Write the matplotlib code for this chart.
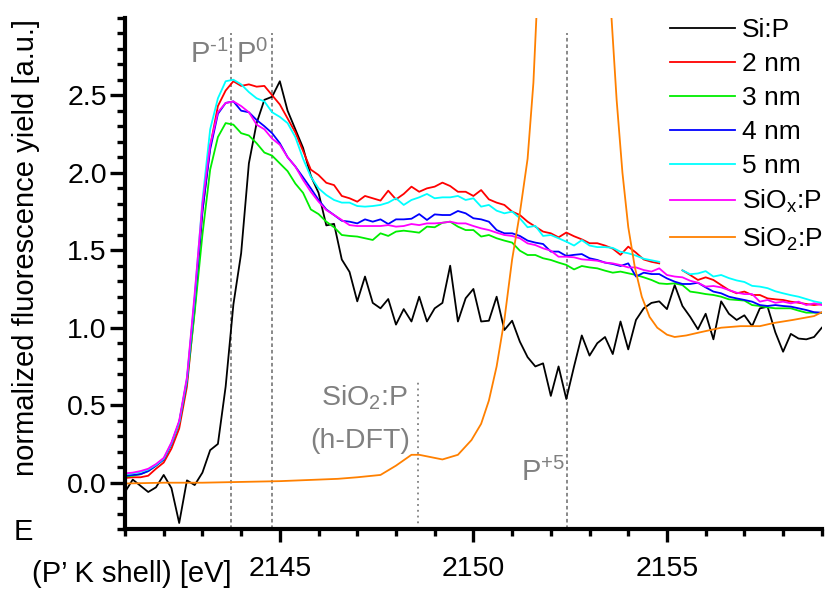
import numpy as np
import matplotlib
matplotlib.use('Agg')
import matplotlib.pyplot as plt
from matplotlib.ticker import FixedLocator, MultipleLocator

plt.rcParams['font.family'] = ['Liberation Sans', 'DejaVu Sans']
plt.rcParams['mathtext.default'] = 'regular'

# photon energy grid of the measured spectra (0.2 eV steps, 2141.0 ... 2159.0)
energy = np.round(2141.0 + 0.2 * np.arange(91), 1)

si_p = [-0.06, 0.02, -0.02, -0.06, -0.03, 0.05, -0.035, -0.26, 0.015, -0.015,
        0.065, 0.21, 0.25, 0.62, 1.15, 1.48, 2.06, 2.32, 2.47, 2.49,
        2.59, 2.40, 2.28, 2.16, 1.98, 1.87, 1.66, 1.67, 1.44, 1.36,
        1.17, 1.33, 1.16, 1.125, 1.185, 1.02, 1.12, 1.04, 1.20, 1.04,
        1.125, 1.16, 1.40, 1.04, 1.19, 1.25, 1.04, 1.045, 1.20, 0.985,
        1.045, 0.91, 0.81, 0.75, 0.77, 0.56, 0.75, 0.54, 0.75, 0.95,
        0.82, 0.90, 0.94, 0.83, 1.04, 0.86, 1.05, 1.125, 1.16, 1.17,
        1.12, 1.275, 1.14, 1.07, 0.99, 1.09, 0.925, 1.17, 1.09, 1.05,
        1.08, 1.01, 1.125, 1.135, 0.97, 0.845, 0.96, 0.93, 0.925, 0.94,
        1.00]

nan = np.nan
nm2 = [0.03, 0.035, 0.035, 0.045, 0.09, 0.13, 0.22, 0.35, 0.62, 1.12, 1.75,
       2.17, 2.43, 2.53, 2.59, 2.56, 2.57, 2.555, 2.56, 2.50, 2.44, 2.35, 2.26,
       2.14, 2.02, 1.985, 1.935, 1.92, 1.85, 1.835, 1.813, 1.85, 1.835, 1.82, 1.884,
       1.828, 1.863, 1.91, 1.877, 1.899, 1.91, 1.936, 1.914, 1.877, 1.877, 1.85,
       1.888, 1.828, 1.807, 1.792, 1.749, 1.727, 1.684, 1.652, 1.62, 1.609, 1.583, 1.614,
       1.59, 1.57, 1.545, 1.545, 1.53, 1.51, 1.47, 1.523, 1.484, 1.44, 1.425, 1.415,
       nan, nan, 1.37, 1.34, 1.308, 1.325, 1.308, 1.275, 1.243, 1.222, 1.233, 1.211,
       1.211, 1.189, 1.183, 1.179, 1.168, 1.161, 1.153, 1.146, 1.153]

nm3 = [0.04, 0.045, 0.055, 0.075, 0.11, 0.15, 0.25, 0.385, 0.65, 1.10, 1.60,
       2.02, 2.23, 2.32, 2.31, 2.255, 2.24, 2.19, 2.13, 2.11, 2.06, 2.01, 1.93,
       1.87, 1.763, 1.733, 1.684, 1.648, 1.598, 1.592, 1.588, 1.577, 1.566, 1.609, 1.592,
       1.62, 1.626, 1.62, 1.613, 1.652, 1.648, 1.677, 1.684, 1.652, 1.63, 1.63,
       1.588, 1.598, 1.577, 1.562, 1.549, 1.497, 1.469, 1.469, 1.448, 1.437, 1.42, 1.405,
       1.376, 1.398, 1.389, 1.383, 1.368, 1.355, 1.362, 1.351, 1.34, 1.325, 1.308, 1.286,
       1.282, 1.286, 1.275, 1.233, 1.226, 1.217, 1.211, 1.2, 1.183, 1.179, 1.175, 1.146,
       1.14, 1.131, 1.125, 1.125, 1.125, 1.11, 1.097, 1.097, 1.095]

nm4 = [0.045, 0.05, 0.055, 0.075, 0.11, 0.15, 0.25, 0.39, 0.66, 1.18, 1.75,
       2.15, 2.38, 2.45, 2.46, 2.40, 2.39, 2.34, 2.30, 2.255, 2.19, 2.10, 2.04,
       1.97, 1.899, 1.824, 1.763, 1.727, 1.69, 1.684, 1.673, 1.699, 1.684, 1.699, 1.669,
       1.699, 1.699, 1.703, 1.733, 1.695, 1.731, 1.727, 1.727, 1.753, 1.738, 1.706,
       1.699, 1.684, 1.63, 1.609, 1.609, 1.592, 1.562, 1.549, 1.54, 1.491, 1.491, 1.463,
       1.47, 1.475, 1.448, 1.437, 1.42, 1.411, 1.398, 1.415, 1.33, 1.355, 1.346, 1.346,
       1.318, 1.297, 1.282, 1.282, 1.29, 1.26, 1.233, 1.222, 1.2, 1.189, 1.179, 1.168,
       1.146, 1.14, 1.146, 1.14, 1.136, 1.125, 1.114, 1.10, 1.097]

nm5 = [0.055, 0.06, 0.07, 0.085, 0.115, 0.155, 0.255, 0.39, 0.67, 1.20, 1.82,
       2.28, 2.48, 2.59, 2.60, 2.57, 2.52, 2.48, 2.46, 2.39, 2.36, 2.32, 2.23,
       2.09, 1.974, 1.899, 1.856, 1.824, 1.807, 1.807, 1.785, 1.781, 1.785, 1.792, 1.807,
       1.835, 1.792, 1.824, 1.841, 1.863, 1.835, 1.841, 1.841, 1.85, 1.824, 1.835,
       1.781, 1.792, 1.755, 1.738, 1.749, 1.706, 1.648, 1.657, 1.592, 1.598, 1.577, 1.555,
       1.53, 1.565, 1.53, 1.52, 1.52, 1.515, 1.49, 1.48, 1.465, 1.445, 1.435, 1.425,
       nan, nan, 1.37, 1.345, 1.35, 1.365, 1.33, 1.34, 1.32, 1.305, 1.295, 1.27,
       1.265, 1.255, 1.235, 1.222, 1.21, 1.2, 1.185, 1.17, 1.16]

siox_p = [0.06, 0.065, 0.075, 0.09, 0.12, 0.16, 0.26, 0.40, 0.68, 1.22, 1.80,
          2.18, 2.39, 2.45, 2.46, 2.43, 2.39, 2.31, 2.28, 2.22, 2.18, 2.10, 2.04,
          1.953, 1.877, 1.813, 1.759, 1.727, 1.695, 1.662, 1.656, 1.656, 1.656, 1.656, 1.662,
          1.652, 1.656, 1.669, 1.662, 1.673, 1.673, 1.677, 1.684, 1.673, 1.673, 1.656,
          1.641, 1.63, 1.613, 1.598, 1.592, 1.577, 1.544, 1.533, 1.512, 1.497, 1.458, 1.458,
          1.454, 1.441, 1.437, 1.432, 1.42, 1.415, 1.404, 1.389, 1.389, 1.372, 1.362, 1.383,
          1.34, 1.33, 1.325, 1.303, 1.29, 1.265, 1.269, 1.26, 1.243, 1.226, 1.217, 1.217,
          1.168, 1.179, 1.161, 1.168, 1.157, 1.168, 1.146, 1.157, 1.146]

# SiO2:P reference (own energy sampling, white line goes far off scale)
sio2_e = [2141.0, 2142.0, 2143.0, 2144.0, 2145.0, 2145.5, 2146.0, 2146.5, 2147.0, 2147.6,
          2148.0, 2148.4, 2148.6, 2149.2, 2149.6, 2149.95, 2150.2, 2150.4, 2150.6, 2150.8,
          2151.0, 2151.2, 2151.4, 2151.55, 2151.7, 2152.0, 2152.5, 2153.0, 2153.4, 2153.57,
          2153.7, 2153.85, 2154.0, 2154.17, 2154.35, 2154.55, 2154.75, 2155.0, 2155.2, 2155.5,
          2155.85, 2156.4, 2156.9, 2157.4, 2157.75, 2158.25, 2158.8, 2159.0]
sio2_p = [-0.005, 0.0, 0.0, 0.005, 0.01, 0.015, 0.02, 0.025, 0.035, 0.05,
          0.11, 0.18, 0.18, 0.15, 0.18, 0.275, 0.38, 0.53, 0.75, 1.05,
          1.44, 1.74, 2.09, 2.58, 3.4, 4.6, 5.2, 4.6, 3.5, 2.99,
          2.47, 2.0, 1.65, 1.39, 1.2, 1.07, 1.0, 0.955, 0.94, 0.95,
          0.97, 1.0, 1.01, 1.01, 1.03, 1.05, 1.075, 1.1]

# reference energies for the charge states
e_pm1, e_p0, e_dft, e_p5 = 2143.75, 2144.79, 2148.58, 2152.42

gray = '#808080'

fig = plt.figure(figsize=(8.26, 5.91), dpi=100)
ax = fig.add_axes([125/826, 1-529.2/591, (821.8-125)/826, (529.2-17.7)/591])

for e in (e_pm1, e_p0, e_p5):
    ax.plot([e, e], [-0.3, 2.9], color=gray, lw=1.3, ls=(0, (2, 1.6)), zorder=1)
ax.plot([e_dft, e_dft], [-0.3, 0.65], color=gray, lw=1.3, ls=(0, (1, 2.2)), zorder=1)

lw = 1.3
ax.plot(energy, si_p, color='black', lw=lw, label='Si:P')
ax.plot(energy, nm2, color='#ff0000', lw=lw, label='2 nm')
ax.plot(energy, nm3, color='#00ee00', lw=lw, label='3 nm')
ax.plot(energy, nm4, color='#0000ff', lw=lw, label='4 nm')
ax.plot(energy, nm5, color='#00ffff', lw=lw, label='5 nm')
ax.plot(energy, siox_p, color='#ff00ff', lw=lw, label='SiO$_x$:P')
ax.plot(sio2_e, sio2_p, color='#ff8000', lw=lw, label='SiO$_2$:P')

ax.set_xlim(2141, 2159)
ax.set_ylim(-0.3, 3.0)

for s in ('top', 'right'):
    ax.spines[s].set_visible(False)
for s in ('left', 'bottom'):
    ax.spines[s].set_linewidth(3)

ax.xaxis.set_major_locator(FixedLocator([2145, 2150, 2155]))
ax.xaxis.set_minor_locator(MultipleLocator(1))
ax.yaxis.set_major_locator(FixedLocator([0, 0.5, 1.0, 1.5, 2.0, 2.5]))
ax.yaxis.set_minor_locator(MultipleLocator(0.1))
ax.set_yticklabels(['0.0', '0.5', '1.0', '1.5', '2.0', '2.5'])
ax.tick_params(axis='x', which='major', direction='out', length=9, width=2.4, labelsize=20.5, pad=10)
ax.tick_params(axis='x', which='minor', direction='out', length=5, width=2.4)
ax.tick_params(axis='y', which='major', direction='out', length=11, width=2.4, labelsize=20.5, pad=2)
ax.tick_params(axis='y', which='minor', direction='out', length=5.5, width=2.4)

ax.set_ylabel('normalized fluorescence yield [a.u.]', fontsize=21)
ax.yaxis.set_label_coords(-0.122, 0.55)

fig.text(14/826, 1-540/591, 'E', fontsize=21, va='baseline', ha='left')
fig.text(32/826, 1-582/591, '(P\u2019 K shell) [eV]', fontsize=21, va='baseline', ha='left')

ax.text(2143.68, 2.708, 'P$^{\u2010 1}$', color=gray, fontsize=21, ha='right', va='baseline')
ax.text(2144.69, 2.708, 'P$^{0}$', color=gray, fontsize=21, ha='right', va='baseline')
ax.text(2152.36, 0.011, 'P$^{+5}$', color=gray, fontsize=21, ha='right', va='baseline')
ax.text(2148.30, 0.50, 'SiO$_2$:P', color=gray, fontsize=20.5, ha='right', va='baseline')
ax.text(2148.36, 0.224, '(h-DFT)', color=gray, fontsize=20.5, ha='right', va='baseline')

ax.legend(loc='upper left', bbox_to_anchor=(670/826, 1-18/591), bbox_transform=fig.transFigure,
          frameon=False, fontsize=19, handlelength=2.45, handletextpad=0.28,
          labelspacing=0.38, borderpad=0, borderaxespad=0)

fig.savefig('out.png', dpi=100)
